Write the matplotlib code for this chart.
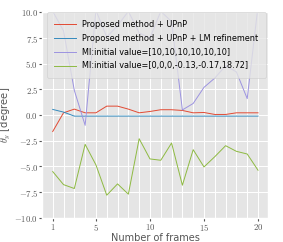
import numpy as np
import matplotlib
matplotlib.use("Agg")
import matplotlib.pyplot as plt
from matplotlib.ticker import FixedLocator, FuncFormatter

plt.style.use("ggplot")
plt.rcParams["mathtext.fontset"] = "cm"
plt.rcParams["font.family"] = ["DejaVu Sans"]

frames = np.arange(1, 21)

upnp = [-1.6, 0.22, 0.58, 0.22, 0.22, 0.87, 0.87, 0.58, 0.22, 0.35,
        0.52, 0.52, 0.45, 0.22, 0.25, 0.06, 0.06, 0.22, 0.22, 0.22]
upnp_lm = [0.55, 0.29, -0.1, -0.1, -0.1, -0.1, -0.1, -0.1, -0.1, -0.1,
           -0.1, -0.1, -0.1, -0.1, -0.1, -0.1, -0.1, -0.1, -0.1, -0.1]
mi_10 = [10.1, 8.2, 2.4, -1.0, 10.2, 7.6, 8.7, 10.1, 8.0, 7.5,
         10.1, 9.1, 0.5, 1.13, 2.7, 3.6, 4.8, 4.2, 1.6, 10.6]
mi_0 = [-5.5, -6.77, -7.15, -2.85, -4.85, -7.8, -6.7, -7.7, -2.3, -4.27,
        -4.4, -2.72, -6.83, -3.37, -5.05, -4.05, -2.98, -3.53, -3.79, -5.37]

labels = ["Proposed method + UPnP",
          "Proposed method + UPnP + LM refinement",
          "MI:initial value=[10,10,10,10,10,10]",
          "MI:initial value=[0,0,0,-0.13,-0.17,18.72]"]

fig = plt.figure(figsize=(2.83, 2.42), dpi=100)
ax = fig.add_axes([0.150, 0.100, 0.798, 0.849])

ax.plot(frames, upnp, color="#E24A33", lw=0.7, label=labels[0])
ax.plot(frames, upnp_lm, color="#348ABD", lw=0.7, label=labels[1])
ax.plot(frames, mi_10, color="#9C93E0", lw=0.7, label=labels[2])
ax.plot(frames, mi_0, color="#8EBA42", lw=0.7, label=labels[3])

ax.set_ylim(-10, 10)
ax.set_xlim(0.05, 20.95)
ax.xaxis.set_major_locator(FixedLocator([1, 5, 10, 15, 20]))
ax.xaxis.set_minor_locator(FixedLocator(list(range(1, 21))))
ax.yaxis.set_major_locator(FixedLocator(np.arange(-10, 10.1, 2.5)))
ax.xaxis.set_major_formatter(FuncFormatter(lambda v, p: r"$%d$" % v))
ax.yaxis.set_major_formatter(FuncFormatter(lambda v, p: r"$%.1f$" % v))
ax.tick_params(axis="both", which="major", labelsize=6.3, length=2, pad=1)
ax.tick_params(axis="x", which="minor", length=0)
ax.grid(True, which="both", color="white", lw=0.7)

ax.set_xlabel("Number of frames", fontsize=7, labelpad=0)
ax.set_ylabel(r"$\theta_y$ [degree]", fontsize=7.2, labelpad=1)

ax.legend(loc="upper center", bbox_to_anchor=(0.505, 1.0), borderaxespad=0,
          fontsize=5.9, handlelength=2.6, labelspacing=0.6, borderpad=0.9)

fig.savefig("out.png", dpi=100)
